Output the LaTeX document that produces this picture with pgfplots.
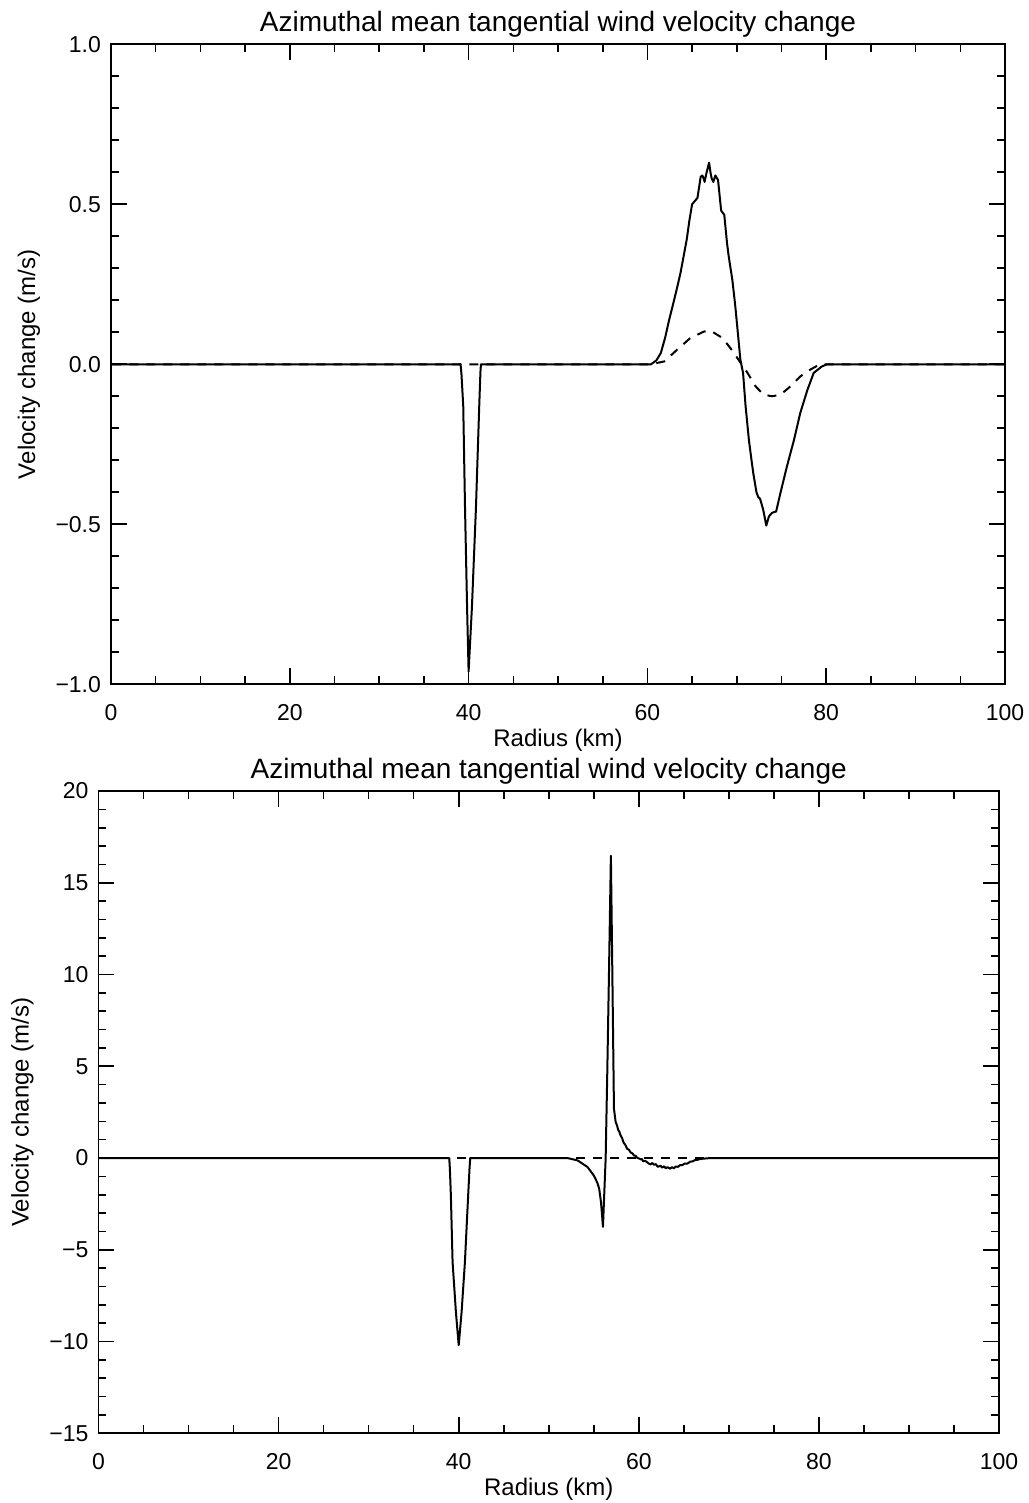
\documentclass[border=0pt]{standalone}
\usepackage{fontspec}
\setmainfont{Liberation Sans}
\usepackage{pgfplots}
\pgfplotsset{compat=1.18}
\pgfplotsset{idl/.style={
  scale only axis,
  axis line style={line width=0.9pt},
  tick align=inside,
  major tick length=8pt, minor tick length=4pt,
  tick style={line width=0.8pt, black},
  xmin=0, xmax=100, xtick={0,20,...,100}, minor x tick num=3,
  tick label style={font=\fontsize{11.5}{13}\selectfont},
  xticklabel style={anchor=center, yshift=-14pt},
  yticklabel style={anchor=east, xshift=-1.5pt},
  every axis x label/.style={at={(axis description cs:0.5,0)}, anchor=center, yshift=-28pt, font=\fontsize{12}{14}\selectfont},
  every axis title/.style={at={(axis description cs:0.5,1)}, anchor=center, yshift=10pt, font=\fontsize{14}{16}\selectfont},
  /pgf/number format/assume math mode=true,
  xlabel={Radius (km)}, ylabel={Velocity change (m/s)},
  title={Azimuthal mean tangential wind velocity change},
  solid/.style={black, line width=1pt, line join=round},
  dsh/.style={black, line width=1pt, dash pattern=on 4.5pt off 4pt, dash phase=7.8pt},
}}
\begin{document}
\begin{tikzpicture}
\useasboundingbox (0,0) rectangle (514pt,751.5pt);
\begin{axis}[idl, at={(55.5pt,409.35pt)}, anchor=south west, width=447pt, height=320pt,
  ymin=-1, ymax=1, ytick={-1,-0.5,0,0.5,1}, yticklabels={−1.0,−0.5,0.0,0.5,1.0}, minor y tick num=4,
  every axis y label/.style={at={(axis description cs:0,0.5)}, xshift=-41pt, anchor=center, rotate=90, font=\fontsize{12}{14}\selectfont}]
\addplot[dsh] coordinates {(0,0) (60.4,0) (61.9,0.009) (63.3,0.045) (64.8,0.082) (66.3,0.102) (66.8,0.105) (67.25,0.102) (68.4,0.082) (69.3,0.05) (70.2,0.014) (71.2,-0.027) (72.1,-0.069) (73.0,-0.095) (73.95,-0.10) (74.9,-0.095) (76.0,-0.069) (77.1,-0.038) (78.2,-0.017) (79.3,0) (100,0)};
\addplot[solid] coordinates {(0,0) (39.1,0) (39.2,-0.03) (39.4,-0.13) (39.6,-0.45) (39.83,-0.76) (40,-0.96) (40.37,-0.76) (40.82,-0.45) (41.19,-0.13) (41.32,-0.026) (41.38,0) (60.4,0) (61.0,0.012) (61.5,0.035) (62.0,0.085) (62.4,0.135) (62.8,0.18) (63.2,0.225) (63.7,0.285) (64.1,0.345) (64.4,0.39) (64.7,0.45) (65.0,0.50) (65.3,0.51) (65.6,0.52) (65.96,0.586) (66.15,0.59) (66.3,0.58) (66.4,0.57) (66.6,0.597) (66.9,0.63) (67.07,0.597) (67.2,0.58) (67.37,0.57) (67.6,0.59) (67.9,0.576) (68.25,0.48) (68.6,0.467) (68.9,0.38) (69.1,0.336) (69.5,0.264) (69.8,0.19) (70.05,0.118) (70.4,0.014) (70.7,-0.027) (70.98,-0.13) (71.35,-0.236) (71.6,-0.29) (71.84,-0.34) (72.2,-0.40) (72.4,-0.415) (72.6,-0.42) (72.95,-0.454) (73.3,-0.504) (73.6,-0.475) (73.95,-0.464) (74.4,-0.46) (74.9,-0.40) (75.6,-0.32) (76.4,-0.236) (77.1,-0.152) (77.9,-0.08) (78.6,-0.027) (79.5,-0.007) (80.1,0) (100,0)};
\end{axis}
\begin{axis}[idl, at={(49.25pt,34.85pt)}, anchor=south west, width=450.25pt, height=321.15pt,
  ymin=-15, ymax=20, ytick={-15,-10,...,20}, yticklabels={−15,−10,−5,0,5,10,15,20}, minor y tick num=4,
  every axis y label/.style={at={(axis description cs:0,0.5)}, xshift=-38pt, anchor=center, rotate=90, font=\fontsize{12}{14}\selectfont}]
\addplot[dsh] coordinates {(0,0) (100,0)};
\addplot[solid] coordinates {(0,0) (38.95,0) (39.02,-0.58) (39.13,-2.04) (39.32,-5.67) (39.69,-8.4) (40,-10.2) (40.32,-8.4) (40.69,-5.67) (41.05,-2.04) (41.2,-0.58) (41.28,0) (52.07,0) (53.2,-0.13) (54.3,-0.49) (55.0,-0.95) (55.4,-1.35) (55.6,-1.67) (55.8,-2.4) (55.95,-3.3) (56.02,-3.75) (56.32,0) (56.5,4.69) (56.69,10.14) (56.9,16.47) (57.06,10.14) (57.17,5.6) (57.24,2.69) (57.43,1.96) (57.6,1.75) (57.7,1.55) (57.85,1.42) (57.98,1.23) (58.15,1.08) (58.3,0.85) (58.5,0.72) (58.7,0.51) (58.9,0.45) (59.1,0.3) (59.3,0.25) (59.46,0.14) (59.65,0.12) (59.8,0.02) (60.0,-0.02) (60.2,-0.07) (60.35,-0.06) (60.5,-0.18) (60.7,-0.15) (60.9,-0.22) (61.1,-0.3) (61.3,-0.35) (61.5,-0.27) (61.7,-0.37) (61.9,-0.33) (62.1,-0.48) (62.4,-0.42) (62.6,-0.52) (62.8,-0.45) (63.0,-0.56) (63.2,-0.5) (63.45,-0.58) (63.7,-0.5) (63.9,-0.56) (64.1,-0.46) (64.35,-0.48) (64.6,-0.38) (64.85,-0.38) (65.1,-0.3) (65.4,-0.3) (65.7,-0.2) (66.0,-0.18) (66.2,-0.12) (66.5,-0.1) (66.85,-0.05) (67.96,0) (100,0)};
\end{axis}
\end{tikzpicture}
\end{document}
